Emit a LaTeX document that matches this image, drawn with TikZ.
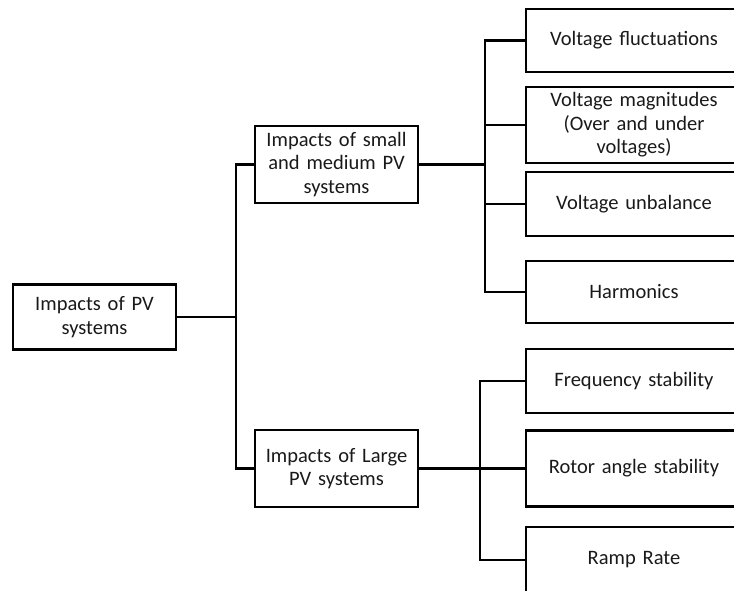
\documentclass[tikz,border=0pt]{standalone}
\usepackage{fontspec}
\setmainfont{Carlito}
\begin{document}
\begin{tikzpicture}[x=1pt,y=-1pt,
  box/.style={draw, line width=2.4pt, inner sep=2pt, align=center, text width=#1, font=\fontsize{20.5}{23.5}\selectfont},
  box/.default=150pt,
  link/.style={line width=2.2pt},
  every node/.style={text=black!90}]
\useasboundingbox (0,0) rectangle (734,590);
\clip (0,0) rectangle (734,590);
\node[box=150pt, minimum width=163pt, minimum height=65pt] (root) at (94.5,317) {Impacts of PV\\systems};
\node[box=150pt, minimum width=163pt, minimum height=77pt] (small) at (336.5,164.5) {Impacts of small\\and medium PV\\systems};
\node[box=150pt, minimum width=163pt, minimum height=77pt] (large) at (336.5,468.5) {Impacts of Large\\PV systems};
\node[box=200pt, minimum width=216pt, minimum height=63pt] (r1) at (634,40.5) {Voltage fluctuations};
\node[box=200pt, minimum width=216pt, minimum height=76pt] (r2) at (634,125) {Voltage magnitudes\\(Over and under\\voltages)};
\node[box=200pt, minimum width=216pt, minimum height=64pt] (r3) at (634,204) {Voltage unbalance};
\node[box=200pt, minimum width=216pt, minimum height=62pt] (r4) at (634,292) {Harmonics};
\node[box=200pt, minimum width=216pt, minimum height=64pt] (r5) at (634,381) {Frequency stability};
\node[box=200pt, minimum width=216pt, minimum height=76pt] (r6) at (634,468.5) {Rotor angle stability};
\node[box=200pt, minimum width=216pt, minimum height=66pt] (r7) at (634,560) {Ramp Rate};
\coordinate (j1) at (236,317);
\coordinate (j2) at (485,164.5);
\coordinate (j3) at (480,468.5);
\draw[link] (root.east) -- (j1);
\draw[link] (small.west) -| (j1) |- (large.west);
\draw[link] (small.east) -- (j2);
\draw[link] (r1.west) -| (j2) |- (r4.west);
\draw[link] (r2.west) -- (r2.west -| j2);
\draw[link] (r3.west) -- (r3.west -| j2);
\draw[link] (large.east) -- (r6.west);
\draw[link] (r5.west) -| (j3) |- (r7.west);
\end{tikzpicture}
\end{document}
